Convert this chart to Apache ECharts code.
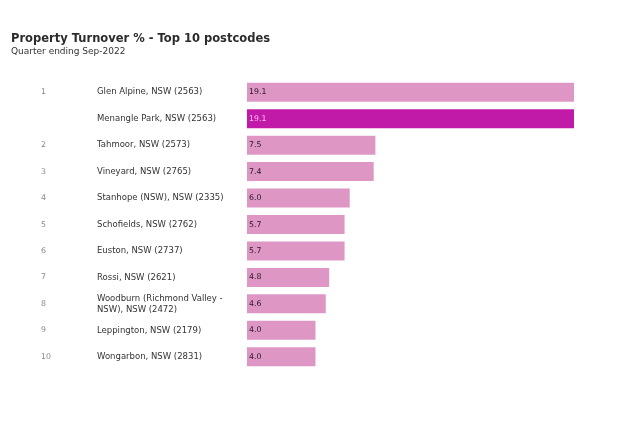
<!DOCTYPE html>
<html>
<head>
<meta charset="utf-8">
<script src="https://cdn.jsdelivr.net/npm/echarts@6/dist/echarts.min.js"></script>
<style>html,body{margin:0;padding:0;background:#fff}#c{width:640px;height:432px}</style>
</head>
<body>
<div id="c"></div>
<script>
var ranks = ['1', '', '2', '3', '4', '5', '6', '7', '8', '9', '10'];
var names = ['Glen Alpine, NSW (2563)', 'Menangle Park, NSW (2563)', 'Tahmoor, NSW (2573)', 'Vineyard, NSW (2765)', 'Stanhope (NSW), NSW (2335)', 'Schofields, NSW (2762)', 'Euston, NSW (2737)', 'Rossi, NSW (2621)', 'Woodburn (Richmond Valley - NSW), NSW (2472)', 'Leppington, NSW (2179)', 'Wongarbon, NSW (2831)'];
var values = [19.1, 19.1, 7.5, 7.4, 6.0, 5.7, 5.7, 4.8, 4.6, 4.0, 4.0];
var highlight = 'Menangle Park, NSW (2563)';

function wrap(s) {
  var lim = 28;
  if (s.length <= lim) return s;
  var i = s.lastIndexOf(' ', lim);
  return s.slice(0, i) + '\n' + s.slice(i + 1);
}

var F = 'DejaVu Sans';
var data = values.map(function (v, i) {
  var hi = names[i] === highlight;
  return {
    value: v,
    itemStyle: { color: hi ? '#C21AA8' : '#DE97C5' },
    label: { color: hi ? '#FFB8F0' : '#2a1526' }
  };
});

var chart = echarts.init(document.getElementById('c'));
chart.setOption({
  animation: false,
  textStyle: { fontFamily: F },
  title: {
    text: 'Property Turnover % - Top 10 postcodes',
    subtext: 'Quarter ending Sep-2022',
    left: 6, top: 28,
    itemGap: 2,
    textStyle: { fontFamily: F, fontSize: 11.5, fontWeight: 'bold', color: '#2b2b2b' },
    subtextStyle: { fontFamily: F, fontSize: 9, color: '#333' }
  },
  grid: { left: 247, right: 66, top: 79, bottom: 62 },
  xAxis: { type: 'value', min: 0, max: 19.1, show: false },
  yAxis: [
    {
      type: 'category', data: ranks, inverse: true,
      axisLine: { show: false }, axisTick: { show: false },
      axisLabel: { align: 'left', margin: 206, fontFamily: F, fontSize: 7.8, color: '#888' }
    },
    {
      type: 'category', data: names, inverse: true, position: 'left',
      axisLine: { show: false }, axisTick: { show: false },
      axisLabel: { align: 'left', margin: 150, fontFamily: F, fontSize: 8.5, color: '#333', lineHeight: 11, formatter: wrap }
    }
  ],
  series: [{
    type: 'bar', yAxisIndex: 0, data: data, barWidth: 19,
    label: {
      show: true, position: 'insideLeft', distance: 2,
      fontFamily: F, fontSize: 7.8,
      formatter: function (p) { return p.value.toFixed(1); }
    }
  }]
});
</script>
</body>
</html>
